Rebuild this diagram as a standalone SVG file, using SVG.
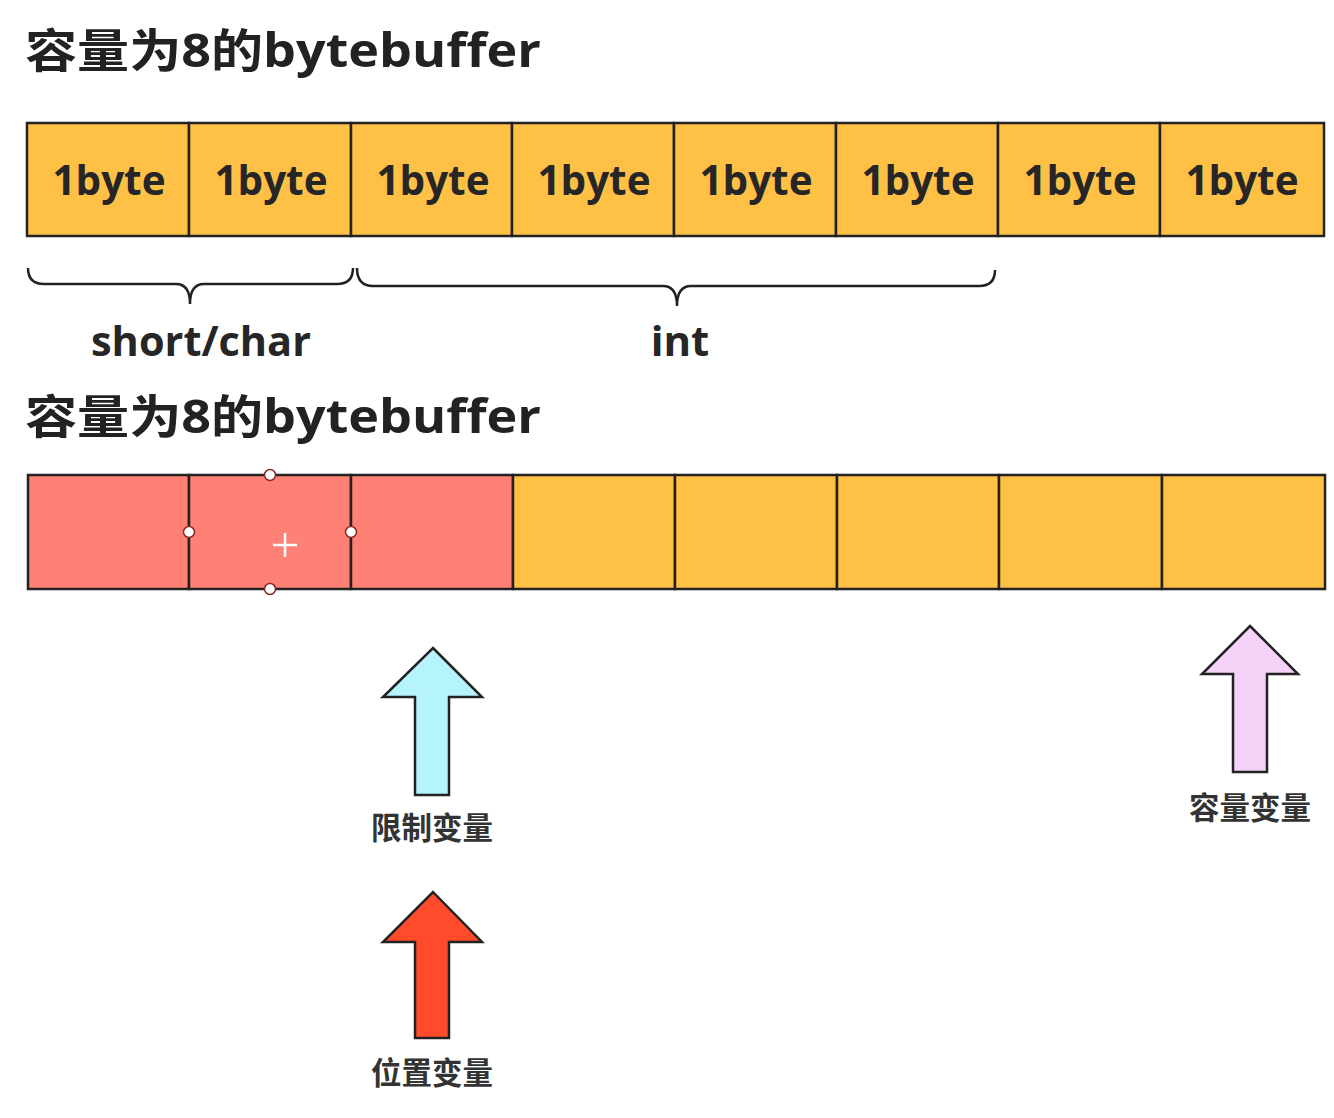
<svg xmlns="http://www.w3.org/2000/svg" width="1334" height="1118" viewBox="0 0 1334 1118">
<style>
.title{font-family:"Open Sans","Noto Sans CJK SC",sans-serif;font-weight:bold;font-size:46px;fill:#222}
.cell{fill:#FFC046;stroke:#222;stroke-width:2.5}
.red{fill:#FF8075;stroke:#222;stroke-width:2.5}
.lbl{font-family:"Open Sans","Noto Sans CJK SC",sans-serif;font-weight:bold;font-size:42px;fill:#262626;text-anchor:middle}
.brace{fill:none;stroke:#222;stroke-width:2.5}
.arrow{stroke:#222;stroke-width:2.5;stroke-linejoin:miter}
.cap{font-family:"Noto Sans CJK SC",sans-serif;font-weight:bold;font-size:30.5px;fill:#333;text-anchor:middle}
.handle{fill:#fff;stroke:#8a2a24;stroke-width:1.5}
</style>
<rect width="1334" height="1118" fill="#fff"/>
<g id="title1"><text class="title" x="25" y="67" textLength="516" lengthAdjust="spacingAndGlyphs">容量为8的bytebuffer</text></g>
<g id="row1">
<rect class="cell" x="27" y="123" width="162" height="113"/>
<rect class="cell" x="189" y="123" width="162" height="113"/>
<rect class="cell" x="351" y="123" width="161" height="113"/>
<rect class="cell" x="512" y="123" width="162" height="113"/>
<rect class="cell" x="674" y="123" width="162" height="113"/>
<rect class="cell" x="836" y="123" width="162" height="113"/>
<rect class="cell" x="998" y="123" width="162" height="113"/>
<rect class="cell" x="1160" y="123" width="164" height="113"/>
<text class="lbl" x="109" y="195" textLength="113" lengthAdjust="spacingAndGlyphs">1byte</text>
<text class="lbl" x="271" y="195" textLength="113" lengthAdjust="spacingAndGlyphs">1byte</text>
<text class="lbl" x="433" y="195" textLength="113" lengthAdjust="spacingAndGlyphs">1byte</text>
<text class="lbl" x="594" y="195" textLength="113" lengthAdjust="spacingAndGlyphs">1byte</text>
<text class="lbl" x="756" y="195" textLength="113" lengthAdjust="spacingAndGlyphs">1byte</text>
<text class="lbl" x="918" y="195" textLength="113" lengthAdjust="spacingAndGlyphs">1byte</text>
<text class="lbl" x="1080" y="195" textLength="113" lengthAdjust="spacingAndGlyphs">1byte</text>
<text class="lbl" x="1242" y="195" textLength="113" lengthAdjust="spacingAndGlyphs">1byte</text>
</g>
<g id="braces">
<path class="brace" d="M28 268 Q28 284 44 284 L176 284 Q190 284 190 304 Q190 284 204 284 L337 284 Q353 284 353 268"/>
<path class="brace" d="M357 268 Q357 286 373 286 L663 286 Q677 286 677 306 Q677 286 691 286 L979 286 Q995 286 995 270"/>
<text class="lbl" x="201" y="356" textLength="220" lengthAdjust="spacingAndGlyphs">short/char</text>
<text class="lbl" x="680" y="356">int</text>
</g>
<g id="title2"><text class="title" x="25" y="433" textLength="516" lengthAdjust="spacingAndGlyphs">容量为8的bytebuffer</text></g>
<g id="row2">
<rect class="red" x="28" y="475" width="161" height="114"/>
<rect class="red" x="189" y="475" width="162" height="114"/>
<rect class="red" x="351" y="475" width="162" height="114"/>
<rect class="cell" x="513" y="475" width="162" height="114"/>
<rect class="cell" x="675" y="475" width="162" height="114"/>
<rect class="cell" x="837" y="475" width="162" height="114"/>
<rect class="cell" x="999" y="475" width="163" height="114"/>
<rect class="cell" x="1162" y="475" width="163" height="114"/>
<circle class="handle" cx="270" cy="475" r="5.5"/>
<circle class="handle" cx="189" cy="532" r="5.5"/>
<circle class="handle" cx="351" cy="532" r="5.5"/>
<circle class="handle" cx="270" cy="589" r="5.5"/>
<path d="M273 545 H297 M285 533 V557" stroke="#fff" stroke-width="2.5"/>
</g>
<g id="limit">
<path class="arrow" fill="#B5F3FD" d="M433 648 L482 697 L449 697 L449 795 L415 795 L415 697 L383 697 Z"/>
<text class="cap" x="432" y="839" textLength="122" lengthAdjust="spacingAndGlyphs">限制变量</text>
</g>
<g id="position">
<path class="arrow" fill="#FF4B2B" d="M433 892 L482 942 L449 942 L449 1038 L415 1038 L415 942 L383 942 Z"/>
<text class="cap" x="432" y="1084" textLength="122" lengthAdjust="spacingAndGlyphs">位置变量</text>
</g>
<g id="capacity">
<path class="arrow" fill="#F4D2F7" d="M1250 626 L1298 674 L1267 674 L1267 772 L1233 772 L1233 674 L1202 674 Z"/>
<text class="cap" x="1250" y="819" textLength="122" lengthAdjust="spacingAndGlyphs">容量变量</text>
</g>
</svg>
